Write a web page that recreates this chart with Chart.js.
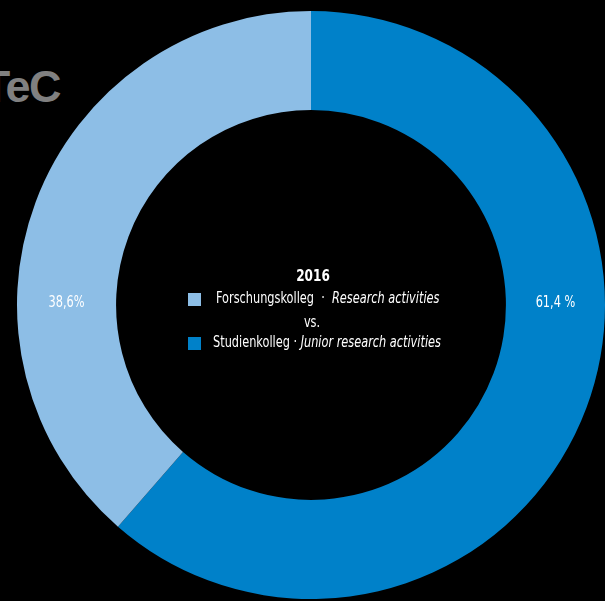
<!DOCTYPE html>
<html>
<head>
<meta charset="utf-8">
<script src="https://cdn.jsdelivr.net/npm/chart.js@4.4.1/dist/chart.umd.min.js"></script>
<style>
  html, body { margin: 0; padding: 0; background: #000; width: 605px; height: 601px; overflow: hidden; }
  #logo {
    position: absolute; right: 545px; top: 61px;
    font: bold 45px "Liberation Sans", Arial, sans-serif; color: #808080;
    letter-spacing: -1.5px; white-space: nowrap;
  }
  #wrap { position: absolute; left: 11px; top: 5px; width: 600px; height: 600px; }
</style>
</head>
<body>
<div id="logo">TeC</div>
<div id="wrap"><canvas id="donut" width="600" height="600"></canvas></div>
<script>
var labels = ['Studienkolleg', 'Forschungskolleg'];
var labelsEn = ['Junior research activities', 'Research activities'];
var shares = [61.4, 38.6];
var shareTexts = ['61,4 %', '38,6%'];
var colors = ['#0081c9', '#8dbee6'];
var year = '2016';

var FONT = '"DejaVu Sans Condensed", "Liberation Sans Narrow", sans-serif';
var SQUEEZE = 0.84;

// narrow text: draw with a horizontal squeeze, returns drawn width
function narrowText(ctx, text, x, y, font, align) {
    ctx.font = font;
    var w = ctx.measureText(text).width * SQUEEZE;
    var left = align === 'center' ? x - w / 2 : x;
    ctx.save();
    ctx.translate(left, y);
    ctx.scale(SQUEEZE, 1);
    ctx.textAlign = 'left';
    ctx.fillText(text, 0, 0);
    ctx.restore();
    return w;
}

// percentages written across the ring, left and right of the hole
var ringLabels = {
    id: 'ringLabels',
    afterDatasetsDraw: function (chart) {
        var ctx = chart.ctx;
        var arcs = chart.getDatasetMeta(0).data;
        ctx.save();
        ctx.fillStyle = '#fff';
        ctx.textBaseline = 'middle';
        arcs.forEach(function (arc, i) {
            var mid = (arc.innerRadius + arc.outerRadius) / 2;
            var c = arc.getCenterPoint();
            var side = c.x >= arc.x ? 1 : -1;
            narrowText(ctx, shareTexts[i], arc.x + side * mid, arc.y - 2, '15px ' + FONT, 'center');
        });
        ctx.restore();
    }
};

// year and legend in the middle
var centerLegend = {
    id: 'centerLegend',
    afterDraw: function (chart) {
        var ctx = chart.ctx;
        var arc = chart.getDatasetMeta(0).data[0];
        var cx = arc.x, cy = arc.y;
        ctx.save();
        ctx.fillStyle = '#fff';
        ctx.textBaseline = 'middle';
        narrowText(ctx, year, cx + 2, cy - 28, 'bold 16px ' + FONT, 'center');
        narrowText(ctx, 'vs.', cx + 1, cy + 18, '15px ' + FONT, 'center');

        var rows = [
            { i: 1, sep: '  \u00b7  ', y: cy - 6, x: cx - 95 },
            { i: 0, sep: ' \u00b7 ', y: cy + 38, x: cx - 98 }
        ];
        rows.forEach(function (r) {
            ctx.fillStyle = colors[r.i];
            ctx.fillRect(cx - 123, r.y - 6, 13, 13);
            ctx.fillStyle = '#fff';
            var w = narrowText(ctx, labels[r.i] + r.sep, r.x, r.y, '15px ' + FONT, 'left');
            narrowText(ctx, labelsEn[r.i], r.x + w, r.y, 'italic 15px ' + FONT, 'left');
        });
        ctx.restore();
    }
};

new Chart(document.getElementById('donut').getContext('2d'), {
    type: 'doughnut',
    data: {
        labels: labels,
        datasets: [{
            data: shares,
            backgroundColor: colors,
            borderWidth: 0
        }]
    },
    options: {
        responsive: false,
        animation: false,
        cutout: '66.3%',
        layout: { padding: 6 },
        plugins: {
            legend: { display: false },
            tooltip: { enabled: false }
        }
    },
    plugins: [ringLabels, centerLegend]
});
</script>
</body>
</html>
